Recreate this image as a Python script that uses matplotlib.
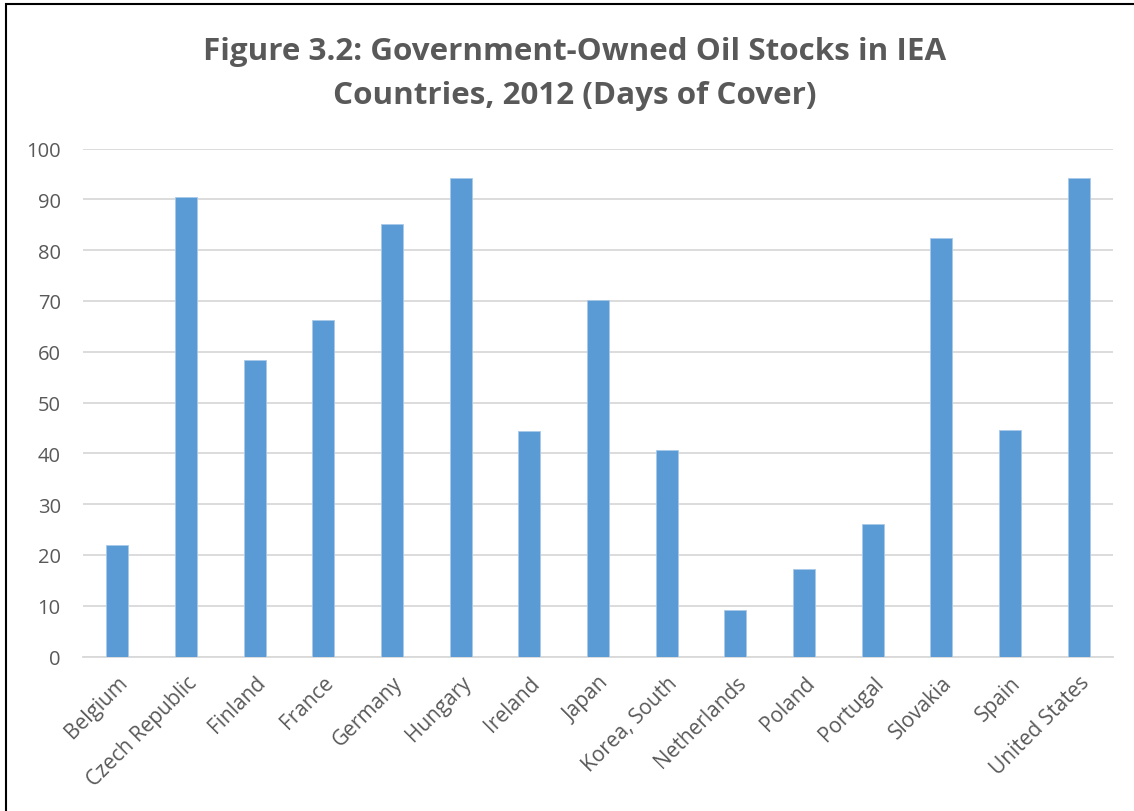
import matplotlib
matplotlib.use("Agg")
import matplotlib.pyplot as plt
from matplotlib.patches import Rectangle

countries = ["Belgium", "Czech Republic", "Finland", "France", "Germany", "Hungary",
             "Ireland", "Japan", "Korea, South", "Netherlands", "Poland", "Portugal",
             "Slovakia", "Spain", "United States"]
days = [21.9, 90.4, 58.3, 66.3, 85.2, 94.1, 44.3, 70.1, 40.6, 9.1, 17.3, 26.0, 82.4, 44.5, 94.1]
yticks = [0, 10, 20, 30, 40, 50, 60, 70, 80, 90, 100]

W, H = 1134, 812
fig = plt.figure(figsize=(W / 100, H / 100), dpi=100)
plt.rcParams['font.family'] = ['Open Sans', 'DejaVu Sans']
gray = '#595959'

ax = fig.add_axes([83 / W, 1 - 657.5 / H, (1113 - 83) / W, (657.5 - 149.5) / H])
x = list(range(len(countries)))
ax.bar(x, days, width=0.32, color='#5B9BD5', edgecolor='#A9C9EA', linewidth=0.6, zorder=3)
ax.set_xlim(-0.5, len(countries) - 0.5)
ax.set_ylim(0, 100)
ax.set_yticks(yticks)
ax.set_yticklabels([str(v) for v in yticks], fontsize=14.5, color=gray)
ax.set_xticks(x)
ax.set_xticklabels(countries, rotation=45, ha='right', rotation_mode='anchor',
                   fontsize=15, color=gray)
ax.tick_params(axis='y', length=0, pad=16)
ax.tick_params(axis='x', length=0, pad=11)
ax.grid(axis='y', color='#D9D9D9', linewidth=1.3, zorder=0)
for s in ['top', 'right', 'left']:
    ax.spines[s].set_visible(False)
ax.spines['bottom'].set_color('#D9D9D9')
ax.spines['bottom'].set_linewidth(1.3)

fig.text(575 / W, 1 - 74 / H, "Figure 3.2: Government-Owned Oil Stocks in IEA\nCountries, 2012 (Days of Cover)",
         ha='center', va='center', fontsize=22.6, fontweight='bold', color=gray, linespacing=1.62)

fig.patches.append(Rectangle((6 / W, -0.05), 1.2, 1 - 5 / H + 0.05, transform=fig.transFigure,
                             fill=False, edgecolor='black', linewidth=1.5, zorder=10))

fig.savefig("out.png", dpi=100)
